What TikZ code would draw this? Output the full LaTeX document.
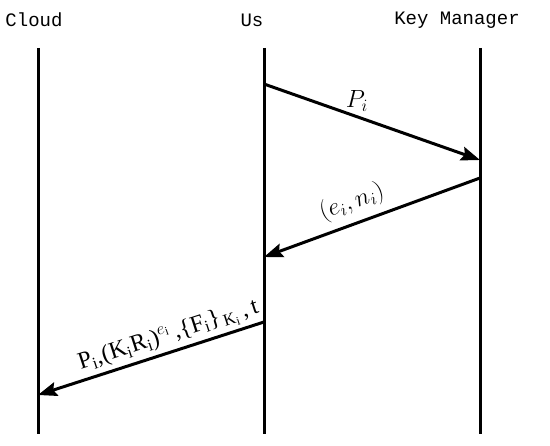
\documentclass[tikz,border=0pt]{standalone}
\usepackage{fontspec}
\setmainfont{Liberation Serif}
\setmonofont{Liberation Mono}
\usetikzlibrary{arrows.meta}

\begin{document}
\begin{tikzpicture}[x=1pt, y=-1pt,
  actor/.style={font=\ttfamily\fontsize{19}{21}\selectfont},
  life/.style={line width=3pt},
  msg/.style={line width=3pt, -{Stealth[length=19pt, width=14pt, inset=3pt]}},
  lbl/.style={font=\fontsize{23}{25}\selectfont, inner sep=1pt}]
  \useasboundingbox (0,0) rectangle (550,446);
  \node[actor] (cloud) at (34,20)  {Cloud};
  \node[actor] (us)    at (252,20) {Us};
  \node[actor] (km)    at (457,20) {Key Manager};
  % lifelines
  \coordinate (cloudtop) at (38,48);  \coordinate (cloudbot) at (38,434);
  \coordinate (ustop)    at (264,48); \coordinate (usbot)    at (264,434);
  \coordinate (kmtop)    at (480,48); \coordinate (kmbot)    at (480,434);
  \draw[life] (cloudtop) -- (cloudbot);
  \draw[life] (ustop) -- (usbot);
  \draw[life] (kmtop) -- (kmbot);
  % messages
  \coordinate (m1s) at (264,84);  \coordinate (m1e) at (480,160);
  \coordinate (m2s) at (480,178); \coordinate (m2e) at (264,257);
  \coordinate (m3s) at (264,322); \coordinate (m3e) at (38,395);
  \draw[msg] (m1s) -- node[lbl, pos=0.43, above=3pt] {$P_i$} (m1e);
  \draw[msg] (m2s) -- node[lbl, pos=0.56, sloped, above=6pt] {$(e_i,n_i)$} (m2e);
  \draw[msg] (m3s) -- node[lbl, pos=0.4, sloped, above=2pt, font=\fontsize{24}{26}\selectfont]
    {P$_\mathrm{i}$,(K$_\mathrm{i}$R$_\mathrm{i}$)$^{e_\mathrm{i}}$\,,\{F$_\mathrm{i}$\}$_{\,\mathrm{K_i}}$\,,\,t} (m3e);
\end{tikzpicture}
\end{document}
